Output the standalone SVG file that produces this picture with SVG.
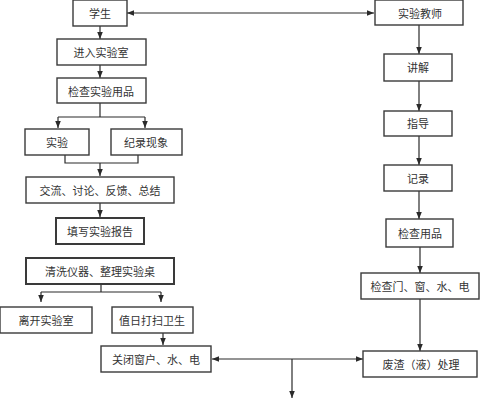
<svg xmlns="http://www.w3.org/2000/svg" width="480" height="400" viewBox="0 0 480 400">
<style>
.box{fill:#fff;stroke:#3a3a3a;stroke-width:1.4}
.thick{stroke-width:2}
.t{font-family:"Noto Sans CJK SC","Liberation Serif",sans-serif;font-size:11px;fill:#333;text-anchor:middle;dominant-baseline:central}
.ln{fill:none;stroke:#2a2a2a;stroke-width:1.2}
</style>
<defs>
<marker id="ah" viewBox="0 0 10 10" refX="10" refY="5" markerWidth="7" markerHeight="7" orient="auto-start-reverse" markerUnits="userSpaceOnUse">
<path d="M0,1 L10,5 L0,9 Z" fill="#2a2a2a"/>
</marker>
</defs>
<rect width="480" height="400" fill="#fff"/>
<g id="connectors">
<line class="ln" x1="127" y1="13" x2="374" y2="13" marker-start="url(#ah)" marker-end="url(#ah)"/>
<line class="ln" x1="100" y1="26" x2="100" y2="39" marker-end="url(#ah)"/>
<line class="ln" x1="100" y1="65" x2="100" y2="78" marker-end="url(#ah)"/>
<polyline class="ln" points="100,103 100,117"/>
<line class="ln" x1="58" y1="117" x2="145" y2="117"/>
<line class="ln" x1="58" y1="117" x2="58" y2="128" marker-end="url(#ah)"/>
<line class="ln" x1="145" y1="117" x2="145" y2="128" marker-end="url(#ah)"/>
<polyline class="ln" points="65,155 65,163 138,163 138,155"/>
<line class="ln" x1="100" y1="163" x2="100" y2="176" marker-end="url(#ah)"/>
<line class="ln" x1="100" y1="203" x2="100" y2="217" marker-end="url(#ah)"/>
<line class="ln" x1="101" y1="284" x2="101" y2="292"/>
<line class="ln" x1="41" y1="292" x2="161" y2="292"/>
<line class="ln" x1="41" y1="292" x2="41" y2="302" marker-end="url(#ah)"/>
<line class="ln" x1="161" y1="292" x2="161" y2="302" marker-end="url(#ah)"/>
<line class="ln" x1="163" y1="333" x2="163" y2="345" marker-end="url(#ah)"/>
<line class="ln" x1="212" y1="359" x2="363" y2="359" marker-start="url(#ah)" marker-end="url(#ah)"/>
<line class="ln" x1="292" y1="359" x2="292" y2="398" marker-end="url(#ah)"/>
<line class="ln" x1="419" y1="25" x2="419" y2="54" marker-end="url(#ah)"/>
<line class="ln" x1="419" y1="81" x2="419" y2="111" marker-end="url(#ah)"/>
<line class="ln" x1="419" y1="136" x2="419" y2="165" marker-end="url(#ah)"/>
<line class="ln" x1="419" y1="191" x2="419" y2="219" marker-end="url(#ah)"/>
<line class="ln" x1="420" y1="247" x2="420" y2="273" marker-end="url(#ah)"/>
<line class="ln" x1="420" y1="299" x2="420" y2="351" marker-end="url(#ah)"/>
</g>
<g id="n-student"><rect class="box" x="73" y="0" width="54" height="26"/><text class="t" x="100" y="13">学生</text></g>
<g id="n-enter"><rect class="box" x="57" y="39" width="89" height="26"/><text class="t" x="101" y="52">进入实验室</text></g>
<g id="n-check"><rect class="box" x="57" y="78" width="89" height="25"/><text class="t" x="101" y="91">检查实验用品</text></g>
<g id="n-exp"><rect class="box" x="25" y="129" width="64" height="26"/><text class="t" x="57" y="142">实验</text></g>
<g id="n-record"><rect class="box" x="111" y="129" width="71" height="26"/><text class="t" x="146" y="142">纪录现象</text></g>
<g id="n-discuss"><rect class="box" x="26" y="177" width="148" height="26"/><text class="t" x="100" y="190">交流、讨论、反馈、总结</text></g>
<g id="n-report"><rect class="box thick" x="56" y="218" width="88" height="26"/><text class="t" x="100" y="231">填写实验报告</text></g>
<g id="n-clean"><rect class="box thick" x="26" y="258" width="148" height="26"/><text class="t" x="100" y="271">清洗仪器、整理实验桌</text></g>
<g id="n-leave"><rect class="box" x="0" y="307" width="92" height="26"/><text class="t" x="46" y="320">离开实验室</text></g>
<g id="n-duty"><rect class="box" x="112" y="307" width="81" height="26"/><text class="t" x="152" y="320">值日打扫卫生</text></g>
<g id="n-close"><rect class="box" x="101" y="346" width="110" height="26"/><text class="t" x="156" y="359">关闭窗户、水、电</text></g>
<g id="n-teacher"><rect class="box" x="375" y="0" width="88" height="25"/><text class="t" x="420" y="13">实验教师</text></g>
<g id="n-explain"><rect class="box" x="384" y="54" width="68" height="27"/><text class="t" x="418" y="67">讲解</text></g>
<g id="n-guide"><rect class="box" x="384" y="111" width="68" height="25"/><text class="t" x="418" y="123">指导</text></g>
<g id="n-note"><rect class="box" x="384" y="165" width="68" height="26"/><text class="t" x="418" y="178">记录</text></g>
<g id="n-checkitems"><rect class="box" x="386" y="219" width="67" height="28"/><text class="t" x="420" y="233">检查用品</text></g>
<g id="n-checkdoor"><rect class="box" x="361" y="273" width="118" height="26"/><text class="t" x="420" y="286">检查门、窗、水、电</text></g>
<g id="n-waste"><rect class="box" x="363" y="351" width="114" height="26"/><text class="t" x="421" y="364">废渣（液）处理</text></g>
</svg>
